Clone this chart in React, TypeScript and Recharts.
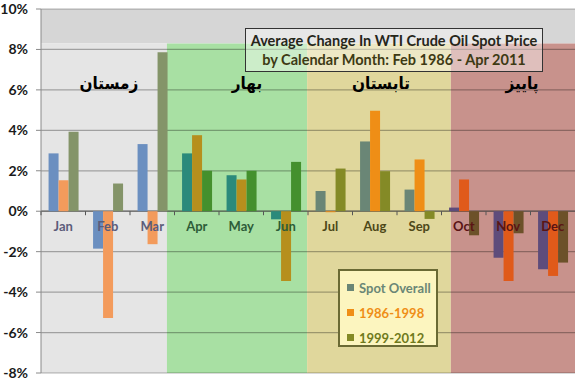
import { Bar, BarChart, Cell, Legend, ReferenceArea, XAxis, YAxis } from 'recharts';

const WIDTH = 575;
const HEIGHT = 383;
const MARGIN = { top: 9, right: 0, bottom: 9, left: 0 };
const X_AXIS_H = 1;
const Y_AXIS_W = 41;
const Y_MIN = -8;
const Y_MAX = 10;
const PLOT_H = HEIGHT - MARGIN.top - MARGIN.bottom - X_AXIS_H;
const PLOT_W = WIDTH - MARGIN.left - MARGIN.right - Y_AXIS_W;
const ZERO_Y = MARGIN.top + (Y_MAX / (Y_MAX - Y_MIN)) * PLOT_H;
const BAND_W = PLOT_W / 12;
const GRID_THICK = 0.06; // gridline thickness in % units

const FONT = 'Lato, "Open Sans", sans-serif';

const months = ['Jan', 'Feb', 'Mar', 'Apr', 'May', 'Jun', 'Jul', 'Aug', 'Sep', 'Oct', 'Nov', 'Dec'];
const monthSeason = [0, 0, 0, 1, 1, 1, 2, 2, 2, 3, 3, 3];
const spotOverall = [2.86, -1.85, 3.32, 2.86, 1.78, -0.4, 1.0, 3.45, 1.07, 0.18, -2.3, -2.87];
const period1986 = [1.53, -5.28, -1.63, 3.76, 1.57, -3.45, -0.05, 4.97, 2.56, 1.57, -3.45, -3.2];
const period1999 = [3.93, 1.37, 7.86, 2.0, 2.0, 2.44, 2.11, 1.98, -0.38, -1.19, -1.09, -2.54];
const yTicks = [-8, -6, -4, -2, 0, 2, 4, 6, 8, 10];

// seasons: start / end in month units, label
const seasonNames = ['زمستان', 'بهار', 'تابستان', 'پاییز'];
const seasonStart = [0, 2.83, 5.98, 9.21];
const seasonEnd = [2.83, 5.98, 9.21, 12];
const seasonTop = 8.3;

const seasonFill = ['#e5e5e5', '#a8e0a3', '#e0d79c', '#c8928c'];
const seasonText = ['#5c5c7a', '#2d5c38', '#4d4818', '#5a1414'];
const labelShift = [5, 10, 2, 9];
// bar colours per season: [spot, 1986-1998, 1999-2012]
const seasonBarColors = [
  ['#6b8fc0', '#f39b5c', '#849469'],
  ['#2b8a7b', '#b68f1d', '#44902d'],
  ['#6a8676', '#ef8e16', '#848a26'],
  ['#5e4c7b', '#e05a1a', '#6c5129'],
];

const data = months.map((month, i) => ({
  month,
  slot: i + 0.5,
  spot: spotOverall[i],
  p1986: period1986[i],
  p1999: period1999[i],
}));

const series = [
  { key: 'spot', name: 'Spot Overall' },
  { key: 'p1986', name: '1986-1998' },
  { key: 'p1999', name: '1999-2012' },
];
const legendText = ['#6a8676', '#ef8e16', '#6f7a1c'];

function MonthTick(props: any) {
  const { x, payload } = props;
  const idx = months.indexOf(payload.value);
  const left = x - BAND_W / 2;
  return (
    <g>
      <line x1={left} x2={left} y1={ZERO_Y} y2={ZERO_Y + 4} stroke="#555" strokeWidth={1} />
      <text
        x={x}
        y={ZERO_Y + 20}
        textAnchor="middle"
        fontFamily={FONT}
        fontWeight={700}
        fontSize={13}
        fill={seasonText[monthSeason[idx]]}
      >
        {payload.value}
      </text>
    </g>
  );
}

function LegendBox() {
  return (
    <div
      style={{
        width: 100,
        height: 78,
        boxSizing: 'border-box',
        background: '#fcf5bf',
        border: '2px solid #6a6a34',
        padding: '4px 0 0 7px',
        fontFamily: FONT,
        fontWeight: 700,
        fontSize: 13,
      }}
    >
      {series.map((s, i) => (
        <div key={s.key} style={{ display: 'flex', alignItems: 'center', height: 25, color: legendText[i] }}>
          <span
            style={{ width: 7, height: 7, background: seasonBarColors[2][i], marginRight: 5, display: 'inline-block' }}
          />
          {s.name}
        </div>
      ))}
    </div>
  );
}

export default function App() {
  return (
    <div style={{ position: 'absolute', left: 0, top: 0, width: WIDTH, height: HEIGHT, background: '#fff' }}>
      <BarChart
        width={WIDTH}
        height={HEIGHT}
        data={data}
        margin={MARGIN}
        barCategoryGap="17%"
        barGap={0}
      >
        <XAxis
          xAxisId="band"
          dataKey="slot"
          type="number"
          domain={[0, 12]}
          allowDataOverflow
          hide
        />
        <ReferenceArea
          xAxisId="band"
          x1={0}
          x2={12}
          y1={seasonTop}
          y2={Y_MAX}
          fill="#d6d6d6"
          fillOpacity={1}
          stroke="none"
          ifOverflow="visible"
        />
        {seasonNames.map((name, i) => (
          <ReferenceArea
            key={name}
            xAxisId="band"
            x1={seasonStart[i]}
            x2={seasonEnd[i]}
            y1={Y_MIN}
            y2={seasonTop}
            fill={seasonFill[i]}
            fillOpacity={1}
            stroke="none"
            ifOverflow="visible"
            label={{
              value: name,
              position: 'insideTop',
              offset: 34,
              dx: labelShift[i],
              fill: '#000',
              fontSize: 17,
              fontWeight: 700,
              fontFamily: '"DejaVu Sans Condensed", "DejaVu Sans", sans-serif',
            }}
          />
        ))}
        {/* gridlines as thin strips so they sit above the season bands */}
        {yTicks.map((t) => (
          <ReferenceArea
            key={`grid-${t}`}
            xAxisId="band"
            x1={0}
            x2={12}
            y1={t - GRID_THICK / 2}
            y2={t + GRID_THICK / 2}
            fill={t === 0 ? '#3a3a3a' : '#000'}
            fillOpacity={t === 0 ? 0.85 : 0.3}
            stroke="none"
            ifOverflow="visible"
          />
        ))}
        {series.map((s, si) => (
          <Bar key={s.key} dataKey={s.key} name={s.name} fill={seasonBarColors[2][si]} isAnimationActive={false}>
            {data.map((d, i) => (
              <Cell key={d.month} fill={seasonBarColors[monthSeason[i]][si]} />
            ))}
          </Bar>
        ))}
        <XAxis
          dataKey="month"
          height={X_AXIS_H}
          axisLine={false}
          tickLine={false}
          interval={0}
          tick={MonthTick}
        />
        <YAxis
          width={Y_AXIS_W}
          domain={[Y_MIN, Y_MAX]}
          ticks={yTicks}
          interval={0}
          allowDataOverflow
          tickFormatter={(v) => `${v}%`}
          tick={{ fontFamily: FONT, fontWeight: 700, fontSize: 14, fill: '#1a1a1a' }}
          tickSize={5}
          tickMargin={8}
          tickLine={{ stroke: '#8a8a8a' }}
          axisLine={{ stroke: '#8a8a8a' }}
        />
        <Legend
          layout="vertical"
          align="center"
          verticalAlign="middle"
          content={<LegendBox />}
          wrapperStyle={{ position: 'absolute', left: 338, top: 269, width: 100, height: 78 }}
        />
      </BarChart>
      <div
        style={{
          position: 'absolute',
          left: 245,
          top: 28,
          width: 298,
          height: 44,
          boxSizing: 'border-box',
          border: '1.5px solid #333',
          background: 'rgba(255,255,255,0.42)',
          fontFamily: FONT,
          fontWeight: 700,
          fontSize: 14.5,
          lineHeight: '19px',
          textAlign: 'center',
          paddingTop: 2,
        }}
      >
        <div style={{ color: '#26261a' }}>Average Change In WTI Crude Oil Spot Price</div>
        <div style={{ color: '#3d3a14' }}>by Calendar Month: Feb 1986 - Apr 2011</div>
      </div>
    </div>
  );
}
